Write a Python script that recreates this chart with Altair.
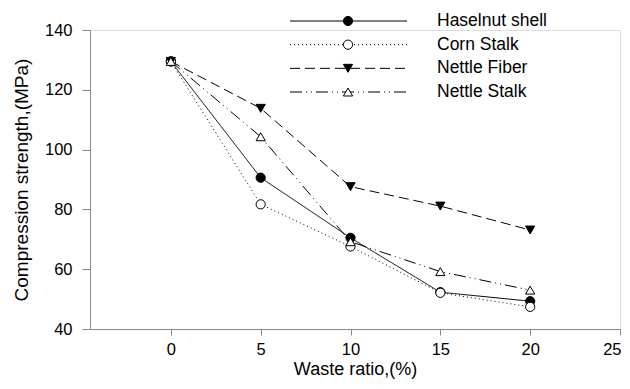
import altair as alt
import pandas as pd

ratios = [0, 5, 10, 15, 20]
series_names = ["Haselnut shell", "Corn Stalk", "Nettle Fiber", "Nettle Stalk"]
haselnut = [129.5, 90.6, 70.5, 52.3, 49.3]
corn = [129.5, 81.7, 67.6, 52.1, 47.4]
nettle_fiber = [129.5, 113.8, 87.6, 81.1, 73.1]
nettle_stalk = [129.5, 104.3, 69.2, 59.2, 53.0]
x_ticks = [0, 5, 10, 15, 20, 25]
y_ticks = [40, 60, 80, 100, 120, 140]

values = [haselnut, corn, nettle_fiber, nettle_stalk]
rows = []
for name, vals in zip(series_names, values):
    for r, v in zip(ratios, vals):
        rows.append({"series": name, "ratio": r, "strength": v})
df = pd.DataFrame(rows)

dashes = [[1, 0], [1, 3], [10, 5], [12, 4, 1, 4, 1, 4]]
shapes = ["circle", "circle", "triangle-down", "triangle-up"]
fills = ["black", "white", "black", "white"]

FONT = "Liberation Sans"
x_scale = alt.Scale(domain=[-4.5, 25], nice=False, zero=False)
y_scale = alt.Scale(domain=[40, 140], nice=False, zero=False)

xenc = alt.X("ratio:Q", scale=x_scale,
             axis=alt.Axis(values=x_ticks, title="Waste ratio,(%)", grid=False,
                           tickSize=6, labelPadding=6, titlePadding=3,
                           labelFlush=True, labelFlushOffset=1,
                           labelFontSize=16.5, titleFontSize=18, titleFontWeight="normal",
                           labelFont=FONT, titleFont=FONT))
yenc = alt.Y("strength:Q", scale=y_scale,
             axis=alt.Axis(values=y_ticks, title="Compression strength,(MPa)", grid=False,
                           tickSize=8, labelPadding=10, titlePadding=13,
                           labelFontSize=16.5, titleFontSize=19, titleFontWeight="normal",
                           labelFont=FONT, titleFont=FONT))

data_layers = []
for i, name in enumerate(series_names):
    sub = alt.Chart(df).transform_filter(alt.datum.series == name)
    data_layers.append(sub.mark_line(color="black", strokeWidth=1, strokeDash=dashes[i]).encode(x=xenc, y=yenc))
for i, name in enumerate(series_names):
    sub = alt.Chart(df).transform_filter(alt.datum.series == name)
    data_layers.append(sub.mark_point(shape=shapes[i], filled=True, fill=fills[i], stroke="black",
                                      strokeWidth=1, size=85, opacity=1).encode(x=xenc, y=yenc))

# manual legend
leg = pd.DataFrame({"series": series_names, "row": [0, 1, 2, 3]})
row_enc = alt.Y("row:Q", scale=alt.Scale(domain=[0, 3], range=[-9, 62]), axis=None)
legend_layers = []
for i, name in enumerate(series_names):
    sub = alt.Chart(leg).transform_filter(alt.datum.series == name)
    legend_layers.append(sub.mark_rule(color="black", strokeWidth=1, strokeDash=dashes[i]).encode(
        x=alt.value(200), x2=alt.value(317), y=row_enc))
    legend_layers.append(sub.mark_point(shape=shapes[i], filled=True, fill=fills[i], stroke="black",
                                        strokeWidth=1, size=85, opacity=1).encode(
        x=alt.value(258), y=row_enc))
    legend_layers.append(sub.mark_text(align="left", baseline="middle", fontSize=17.5, font=FONT, color="black").encode(
        x=alt.value(347), y=row_enc, text="series:N"))

chart = alt.layer(alt.layer(*data_layers), alt.layer(*legend_layers)).resolve_scale(y="independent").properties(
    width=530, height=299,
    autosize=alt.AutoSizeParams(type="none"),
    padding={"left": 82, "top": 22, "right": 2, "bottom": 52},
).configure_view(stroke=None).configure_axis(
    labelColor="black", titleColor="black",
    domainColor="black", tickColor="black",
).configure(background="white")

chart.save("out.html", embed_options={"renderer": "svg", "actions": False})
